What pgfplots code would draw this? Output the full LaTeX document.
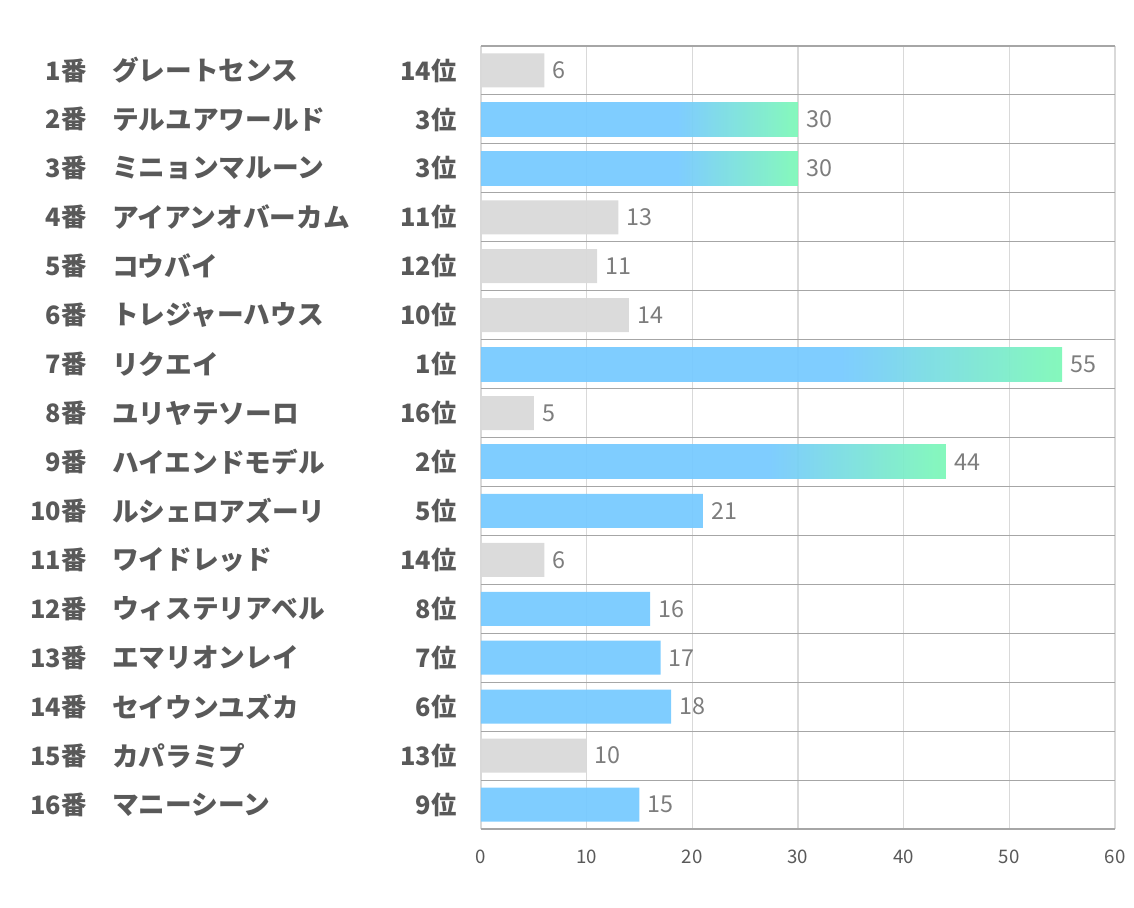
\documentclass[border=0pt]{standalone}
\usepackage{pgfplots}
\pgfplotsset{compat=1.18}
\usepackage{fontspec}
\setmainfont{Noto Sans CJK JP}

\definecolor{barblue}{HTML}{78CAFF}
\definecolor{bargreen}{HTML}{7EF8B8}
\definecolor{bargray}{HTML}{D9D9D9}
\definecolor{labgray}{HTML}{595959}
\definecolor{valgray}{HTML}{767676}
\definecolor{gridlight}{HTML}{D9D9D9}
\definecolor{griddark}{HTML}{A6A6A6}

% blue for most of the bar, fading to green at its end
\pgfdeclarehorizontalshading{bargrad}{100bp}{color(0bp)=(barblue); color(56bp)=(barblue); color(75bp)=(bargreen); color(100bp)=(bargreen)}

\tikzset{lab/.style={inner sep=0pt, font=\fontsize{19}{19}\selectfont\bfseries, text=labgray}}
% row: position, horse no., name, rank
\newcommand\row[4]{%
  \node[lab, anchor=east, xshift=-295.5pt] at (axis cs:0,#1) {#2番};
  \node[lab, anchor=west, xshift=-276.75pt, font=\fontsize{20}{20}\selectfont\bfseries] at (axis cs:0,#1) {#3};
  \node[lab, anchor=east, xshift=-18pt] at (axis cs:0,#1) {#4位};
}

\begin{document}
\begin{tikzpicture}
\path[use as bounding box] (-360.75pt,-58.5pt) rectangle (489.75pt,621.75pt);
\begin{axis}[
  at={(0,0)}, anchor=south west,
  scale only axis, width=475.5pt, height=587.25pt,
  xmin=0, xmax=60, ymin=0.5, ymax=16.5, y dir=reverse,
  xbar, bar width=25.5pt, bar shift=0pt,
  axis line style={draw=none}, tick style={draw=none},
  xtick={0,10,...,60}, xmajorgrids, grid style={draw=gridlight, line width=0.8pt},
  ytick={1,...,16}, yticklabels={},
  minor ytick={0.5,1.5,...,16.5}, yminorgrids,
  minor grid style={draw=griddark, line width=0.8pt},
  /pgf/number format/assume math mode=true,
  xticklabel style={anchor=center, yshift=-21pt, font=\fontsize{14}{14}\selectfont, text=labgray},
  point meta=x,
  nodes near coords,
  nodes near coords style={anchor=west, inner sep=0pt, xshift=6pt, font=\fontsize{17.5}{17.5}\selectfont, text=valgray},
  clip=false,
]
\addplot[draw=none, fill=bargray, fill opacity=0.95] coordinates {
  (6,1) (13,4) (11,5) (14,6) (5,8) (6,11) (10,15)};
\addplot[draw=none, fill=barblue, fill opacity=0.95] coordinates {
  (21,10) (16,12) (17,13) (18,14) (15,16)};
% one plot per shaded bar, so that each bar gets its own gradient
\addplot[draw=none, shading=bargrad, fill opacity=0.95] coordinates {(30,2)};
\addplot[draw=none, shading=bargrad, fill opacity=0.95] coordinates {(30,3)};
\addplot[draw=none, shading=bargrad, fill opacity=0.95] coordinates {(55,7)};
\addplot[draw=none, shading=bargrad, fill opacity=0.95] coordinates {(44,9)};

\row{1}{1}{グレートセンス}{14}
\row{2}{2}{テルユアワールド}{3}
\row{3}{3}{ミニョンマルーン}{3}
\row{4}{4}{アイアンオバーカム}{11}
\row{5}{5}{コウバイ}{12}
\row{6}{6}{トレジャーハウス}{10}
\row{7}{7}{リクエイ}{1}
\row{8}{8}{ユリヤテソーロ}{16}
\row{9}{9}{ハイエンドモデル}{2}
\row{10}{10}{ルシェロアズーリ}{5}
\row{11}{11}{ワイドレッド}{14}
\row{12}{12}{ウィステリアベル}{8}
\row{13}{13}{エマリオンレイ}{7}
\row{14}{14}{セイウンユズカ}{6}
\row{15}{15}{カパラミプ}{13}
\row{16}{16}{マニーシーン}{9}
\end{axis}
\end{tikzpicture}
\end{document}
